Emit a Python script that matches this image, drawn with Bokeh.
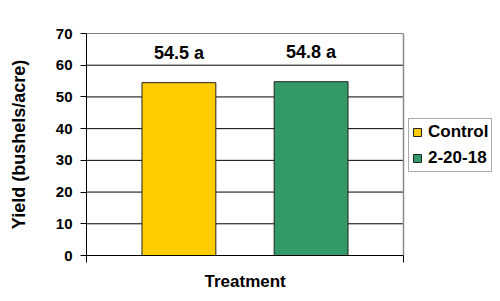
from bokeh.plotting import figure
from bokeh.models import (ColumnDataSource, Range1d, FixedTicker, Legend, LegendItem,
                          LabelSet, Title)
from bokeh.core.properties import value
from bokeh.embed import file_html
from bokeh.resources import INLINE

# ---- data ----
series = ["Control", "2-20-18"]
yields = [54.5, 54.8]
letters = ["a", "a"]
colors = ["#FFCC00", "#339966"]
y_ticks = [0, 10, 20, 30, 40, 50, 60, 70]
x_title = "Treatment"
y_title = "Yield (bushels/acre)"

FONT = "Liberation Sans"

n = len(series)
step = 0.417
xs = [0.5 + (i - (n - 1) / 2) * step for i in range(n)]
src = ColumnDataSource(dict(
    x=xs, top=yields, color=colors, name=series,
    label=[f"{v} {l}" for v, l in zip(yields, letters)],
))

PLOT_W = 317   # width of plot area in px
FRAME_W = 414  # frame extends under the legend
p = figure(frame_width=FRAME_W, frame_height=222, output_backend="svg", toolbar_location=None,
           x_range=Range1d(0, FRAME_W / PLOT_W), y_range=Range1d(0, 70),
           min_border_left=86, min_border_right=0, min_border_top=33,
           min_border_bottom=46)
p.outline_line_color = None
p.background_fill_color = "white"
p.border_fill_color = "white"

# gridlines limited to the plot area (x from 0 to 1)
p.xgrid.visible = False
p.ygrid.visible = False
p.segment(x0=[0] * len(y_ticks), x1=[1] * len(y_ticks), y0=y_ticks, y1=y_ticks,
          line_color="#000000", line_width=1)
# right border of plot area
p.segment(x0=[1], x1=[1], y0=[y_ticks[0]], y1=[y_ticks[-1]],
          line_color="#8c8c8c", line_width=1.5)

rs = []
for i in range(n):
    r = p.vbar(x=[xs[i]], top=[yields[i]], width=0.233, bottom=0,
               fill_color=colors[i], line_color="#222222", line_width=1)
    rs.append(r)

labels = LabelSet(x="x", y="top", text="label", source=src, y_offset=20,
                  text_align="center", text_baseline="bottom",
                  text_font=value(FONT), text_font_style="bold", text_font_size="18px",
                  text_color="black")
p.add_layout(labels)

for ax in (p.xaxis, p.yaxis):
    ax.axis_label_text_font = FONT
    ax.axis_label_text_font_style = "bold"
    ax.axis_label_text_color = "black"
    ax.major_label_text_font = FONT
    ax.major_label_text_font_style = "bold"
    ax.major_label_text_color = "black"
    ax.axis_line_color = "black"
    ax.major_tick_line_color = "black"
    ax.major_tick_in = 0
    ax.minor_tick_out = 0
    ax.minor_tick_in = 0

# y axis
p.yaxis.ticker = FixedTicker(ticks=y_ticks)
p.yaxis.axis_label = y_title
p.yaxis.axis_label_text_font_size = "18px"
p.yaxis.axis_label_standoff = 24
p.yaxis.major_label_text_font_size = "15px"
p.yaxis.major_label_standoff = 8
p.yaxis.major_tick_out = 6

# x axis
p.xaxis.ticker = FixedTicker(ticks=[0, 1])
p.xaxis.bounds = (0, 1)
p.xaxis.major_label_overrides = {0: "", 1: ""}
p.xaxis.major_label_text_font_size = "1px"
p.xaxis.major_label_standoff = 0
p.xaxis.major_tick_out = 7

# x-axis title centred under the plot area (not the whole frame)
xt = Title(text=x_title, align="left", offset=118, text_font=FONT,
           text_font_style="bold", text_font_size="17px", text_color="black",
           standoff=14)
p.add_layout(xt, "below")

legend = Legend(items=[LegendItem(label=series[i], renderers=[rs[i]]) for i in range(n)],
                location=(322, 83))
legend.label_text_font = FONT
legend.label_text_font_style = "bold"
legend.label_text_font_size = "17px"
legend.label_text_color = "black"
legend.label_height = 20
legend.glyph_height = 10
legend.glyph_width = 10
legend.label_standoff = 6
legend.spacing = 6
legend.padding = 3
legend.margin = 0
legend.border_line_color = "#555555"
legend.border_line_width = 1
legend.background_fill_alpha = 1
p.add_layout(legend)

open("out.html", "w").write(file_html(p, INLINE))
